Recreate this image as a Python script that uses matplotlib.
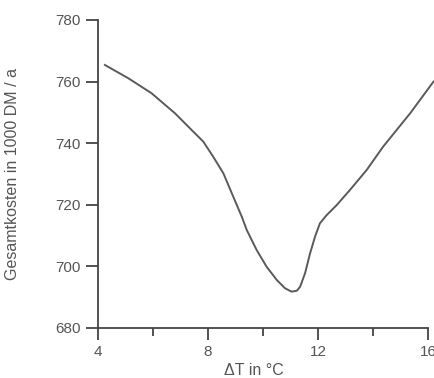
import matplotlib
matplotlib.use("Agg")
import matplotlib.pyplot as plt
from matplotlib.ticker import MultipleLocator

plt.rcParams['font.family'] = ['Liberation Sans', 'DejaVu Sans']

# Gesamtkosten über der Temperaturdifferenz
delta_t = [4.25, 5.10, 5.95, 6.80, 7.47, 7.83, 8.19, 8.56, 8.92, 9.23,
           9.41, 9.77, 10.13, 10.50, 10.80, 11.04, 11.23, 11.35, 11.53,
           11.71, 11.89, 12.07, 12.32, 12.68, 13.16, 13.77, 14.37, 15.35, 16.2]
kosten = [765.4, 761.1, 756.2, 749.7, 743.7, 740.5, 735.6, 730.2, 722.6, 716.1,
          711.8, 705.3, 699.9, 695.6, 692.9, 691.8, 692.1, 693.4, 697.8,
          704.2, 709.6, 714.0, 716.7, 719.9, 724.8, 731.3, 738.9, 749.7, 760.0]

x_ticks = [4, 8, 12, 16]
y_ticks = [680, 700, 720, 740, 760, 780]

grau = '#555555'

fig = plt.figure(figsize=(4.34, 3.78), dpi=100)
ax = fig.add_axes([0.2258, 0.1323, 0.7604, 0.8148])

ax.plot(delta_t, kosten, color='#5a5a5a', lw=1.4, clip_on=False,
        solid_joinstyle='round')

ax.set_xlim(4, 16)
ax.set_ylim(680, 780)
ax.set_xticks(x_ticks)
ax.set_yticks(y_ticks)
ax.xaxis.set_minor_locator(MultipleLocator(2))

for s in ['top', 'right']:
    ax.spines[s].set_visible(False)
for s in ['left', 'bottom']:
    ax.spines[s].set_color('#444444')
    ax.spines[s].set_linewidth(1.3)

ax.tick_params(axis='both', which='major', length=8.5, width=1.3, color='#444444',
               labelcolor=grau, labelsize=11, pad=4)
ax.tick_params(axis='x', which='minor', length=6, width=1.3, color='#444444')

ax.set_ylabel('Gesamtkosten in 1000 DM / a', color=grau, fontsize=11.5)
ax.set_xlabel('\u0394T in °C', color=grau, fontsize=11.5)
ax.yaxis.set_label_coords(-0.235, 0.5)
ax.xaxis.set_label_coords(0.473, -0.115)

fig.savefig('out.png', dpi=100)
